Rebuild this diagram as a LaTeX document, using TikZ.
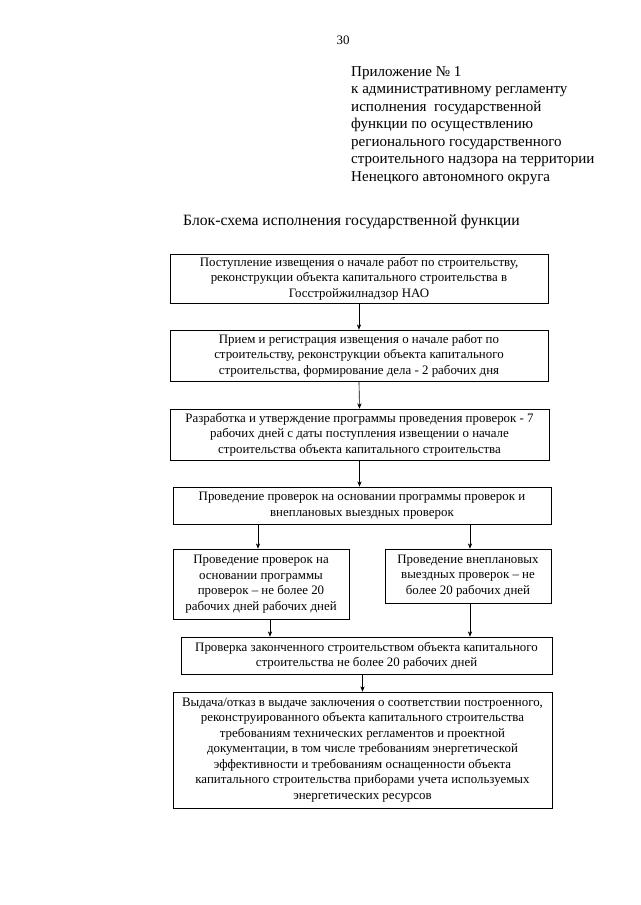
\documentclass[tikz,border=0pt]{standalone}
\usepackage{fontspec}
\setmainfont{Liberation Serif}
\usetikzlibrary{arrows.meta}
\newlength\pxu
\setlength\pxu{0.9297pt}
\tikzset{
  box/.style={draw, line width=0.6pt, align=center, inner sep=0pt,
    font=\fontsize{12}{14.4}\selectfont},
  arr/.style={draw, line width=0.6pt, -{Stealth[length=5pt,width=4pt]}},
  plain/.style={inner sep=0pt, align=left}
}
\begin{document}
\begin{tikzpicture}[x=0.9297pt, y=-0.9297pt]
\useasboundingbox[fill=white] (0,0) rectangle (640,905);

\node[plain, font=\fontsize{12}{14.4}\selectfont] (pg) at (343,40) {30};
\node[plain, anchor=north west, font=\fontsize{14}{16.3}\selectfont] (app) at (351,66)
  {Приложение № 1\\
   к административному регламенту\\
   исполнения~ государственной\\
   функции по осуществлению\\
   регионального государственного\\
   строительного надзора на территории\\
   Ненецкого автономного округа};
\node[plain, font=\fontsize{14.6}{17}\selectfont] (title) at (351.5,222)
  {Блок-схема исполнения государственной функции};

\node[box, minimum width=378\pxu, minimum height=49\pxu] (b1) at (359,278.5)
  {Поступление извещения о начале работ по строительству,\\
   реконструкции объекта капитального строительства в\\
   Госстройжилнадзор НАО};
\node[box, minimum width=378\pxu, minimum height=51\pxu] (b2) at (359,355.5)
  {Прием и регистрация извещения о начале работ по\\
   строительству, реконструкции объекта капитального\\
   строительства, формирование дела - 2 рабочих дня};
\node[box, minimum width=379\pxu, minimum height=51\pxu] (b3) at (359.5,434.5)
  {Разработка и утверждение программы проведения проверок - 7\\
   рабочих дней с даты поступления извещении о начале\\
   строительства объекта капитального строительства};
\node[box, minimum width=378\pxu, minimum height=37\pxu] (b4) at (362,505.5)
  {Проведение проверок на основании программы проверок и\\
   внеплановых выездных проверок};
\node[box, minimum width=176\pxu, minimum height=70\pxu] (b5) at (261,584)
  {Проведение проверок на\\
   основании программы\\
   проверок – не более 20\\
   рабочих дней рабочих дней};
\node[box, minimum width=166\pxu, minimum height=54\pxu] (b6) at (468,576)
  {Проведение внеплановых\\
   выездных проверок – не\\
   более 20 рабочих дней};
\node[box, minimum width=371\pxu, minimum height=37\pxu] (b7) at (366.5,655.5)
  {Проверка законченного строительством объекта капитального\\
   строительства не более 20 рабочих дней};
\node[box, minimum width=379\pxu, minimum height=116\pxu] (b8) at (362.5,750)
  {Выдача/отказ в выдаче заключения о соответствии построенного,\\
   реконструированного объекта капитального строительства\\
   требованиям технических регламентов и проектной\\
   документации, в том числе требованиям энергетической\\
   эффективности и требованиям оснащенности объекта\\
   капитального строительства приборами учета используемых\\
   энергетических ресурсов};

\draw[arr] (b1.south) -- (b2.north);
\draw[arr] (b2.south) -- (b3.north);
\draw[arr] (b3.south) -- (b3.south |- b4.north);
\draw[arr] ([xshift=-3\pxu]b5.north |- b4.south) -- ([xshift=-3\pxu]b5.north);
\draw[arr] ([xshift=2\pxu]b6.north |- b4.south) -- ([xshift=2\pxu]b6.north);
\draw[arr] ([xshift=9\pxu]b5.south) -- ([xshift=9\pxu]b5.south |- b7.north);
\draw[arr] ([xshift=2\pxu]b6.south) -- ([xshift=2\pxu]b6.south |- b7.north);
\draw[arr] (b8.north |- b7.south) -- (b8.north);
\end{tikzpicture}
\end{document}
